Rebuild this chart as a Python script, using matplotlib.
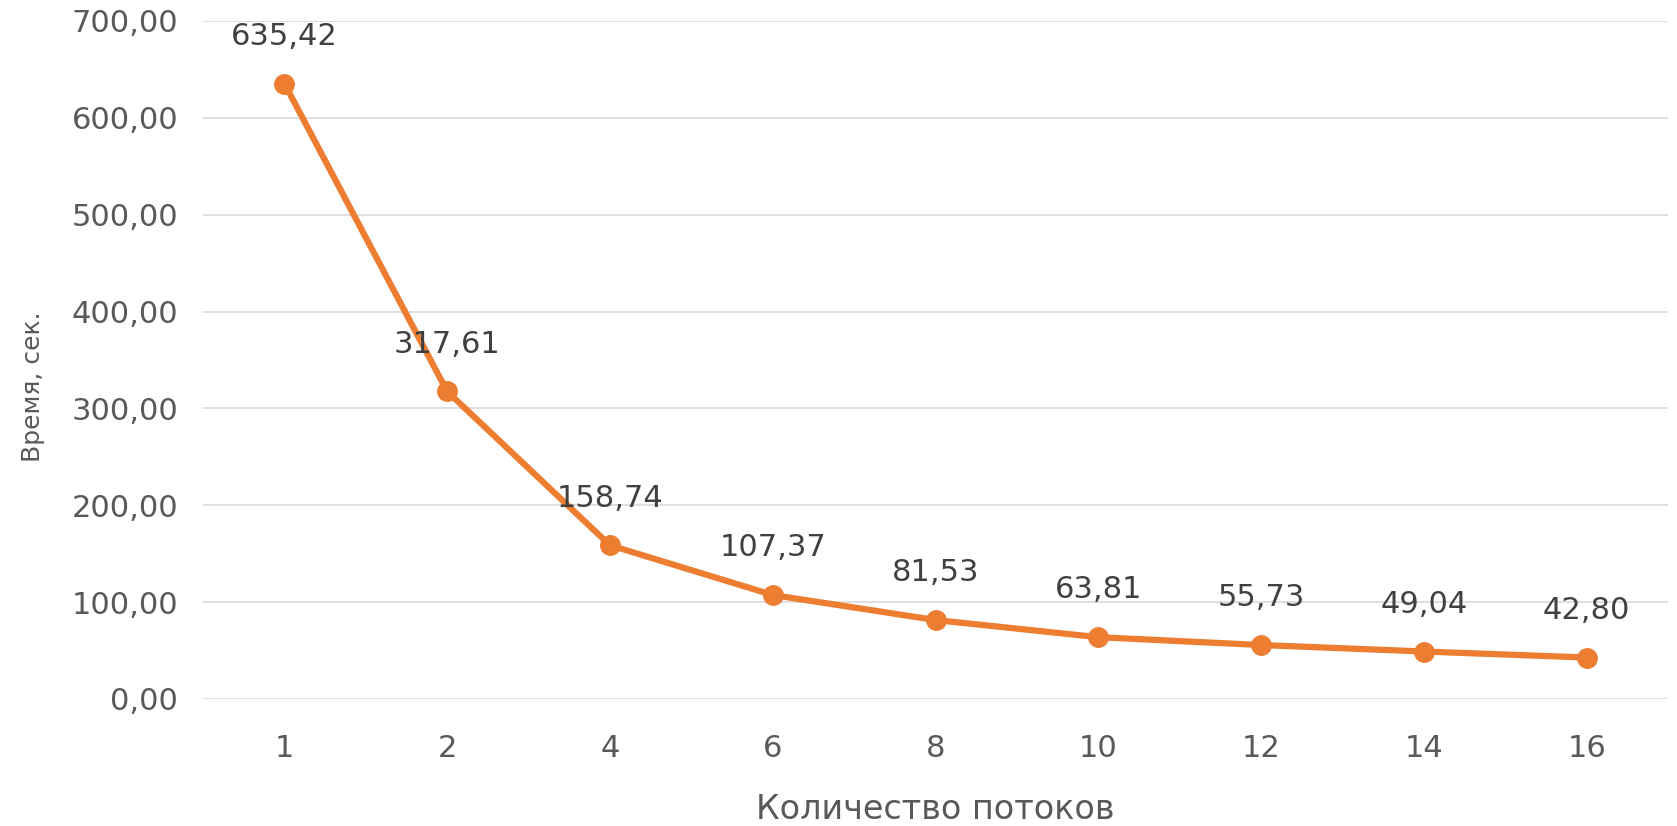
import matplotlib
matplotlib.use("Agg")
import matplotlib.pyplot as plt
from matplotlib.ticker import FuncFormatter

threads = ["1", "2", "4", "6", "8", "10", "12", "14", "16"]
times = [635.42, 317.61, 158.74, 107.37, 81.53, 63.81, 55.73, 49.04, 42.80]
y_ticks = [0, 100, 200, 300, 400, 500, 600, 700]
x_label = "Количество потоков"
y_label = "Время, сек."

plt.rcParams['font.family'] = ['DejaVu Sans']
gray = "#595959"
orange = "#ED7D31"

fig = plt.figure(figsize=(16.77, 8.26), dpi=100)
ax = fig.add_axes([203/1677, 1 - 699/826, (1668-203)/1677, (699-21)/826])

xs = list(range(len(threads)))
ax.plot(xs, times, color=orange, lw=4.5, marker='o', markersize=14, zorder=3,
        solid_capstyle='round')
for x, v in zip(xs, times):
    ax.annotate(f"{v:.2f}".replace('.', ','), (x, v), xytext=(0, 34),
                textcoords='offset points', ha='center', va='center',
                fontsize=22, color="#404040")

ax.set_xlim(-0.5, len(threads) - 0.5)
ax.set_ylim(0, 700)
ax.set_yticks(y_ticks)
ax.yaxis.set_major_formatter(FuncFormatter(lambda v, p: f"{v:.2f}".replace('.', ',')))
ax.set_xticks(xs)
ax.set_xticklabels(threads)
ax.grid(axis='y', color="#D9D9D9", lw=1.2)
ax.set_axisbelow(True)
for s in ax.spines.values():
    s.set_visible(False)
ax.tick_params(axis='both', length=0, labelsize=22, labelcolor=gray)
ax.tick_params(axis='y', pad=18)
ax.tick_params(axis='x', pad=25)
ax.set_xlabel(x_label, fontsize=24, color=gray, labelpad=22)
ax.set_ylabel(y_label, fontsize=18, color=gray)
ax.yaxis.set_label_coords(-0.108, 0.46)

fig.savefig("out.png", dpi=100, facecolor="white")
